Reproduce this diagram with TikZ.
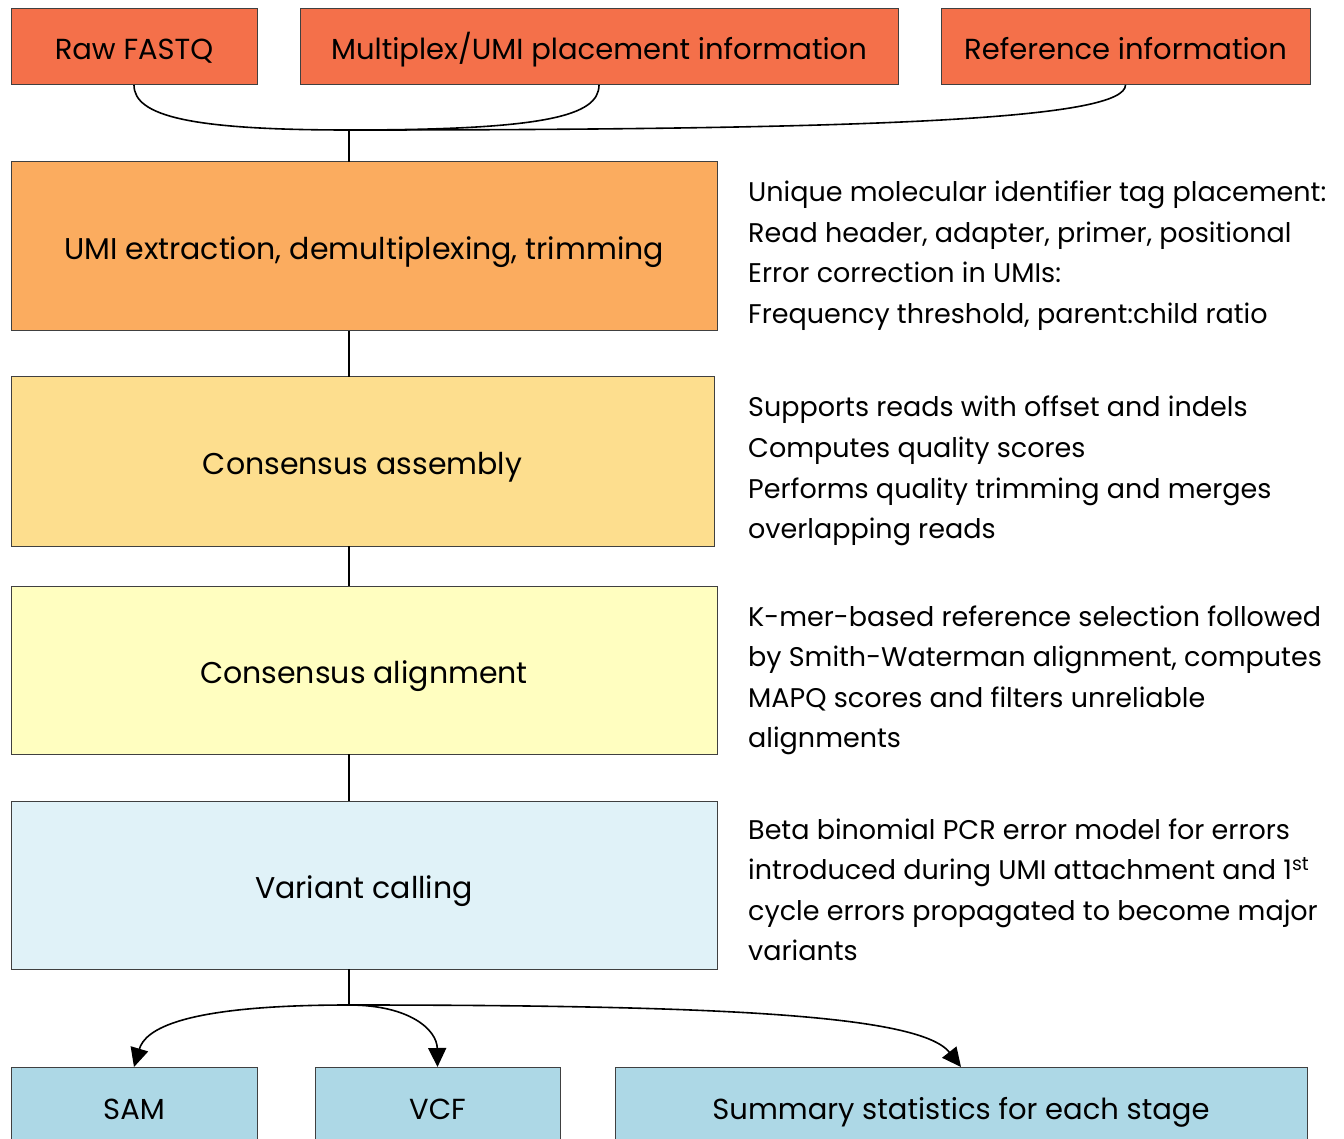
\documentclass[tikz,border=0pt]{standalone}
\usepackage{fontspec}
\setmainfont{Poppins}
\usetikzlibrary{arrows.meta}
\definecolor{topc}{HTML}{F4704A}
\definecolor{umic}{HTML}{FBAC5F}
\definecolor{asmc}{HTML}{FDDE8E}
\definecolor{alnc}{HTML}{FFFEC0}
\definecolor{varc}{HTML}{E0F2F8}
\definecolor{outc}{HTML}{ADD8E6}
\definecolor{edgec}{HTML}{404040}
\tikzset{
  box/.style={draw=edgec, line width=1pt, anchor=north west, inner sep=0pt, outer sep=0pt,
    font=\fontsize{29}{35}\selectfont, text height=26pt, text depth=0pt},
  stage/.style={box, font=\fontsize{30}{36}\selectfont},
  side/.style={anchor=base west, inner sep=0pt, font=\fontsize{27}{33}\selectfont},
  conn/.style={line width=1.6pt, draw=black},
  arr/.style={conn, -{Triangle[length=19pt,width=18pt]}}
}
\begin{document}
\begin{tikzpicture}[x=1pt,y=-1pt]
\clip (0,0) rectangle (1344,1139);
\fill[white] (0,0) rectangle (1344,1139);
% top inputs
\node[box, fill=topc, minimum width=246pt, minimum height=76pt] (raw) at (11,9) {Raw FASTQ};
\node[box, fill=topc, minimum width=598pt, minimum height=76pt] (mux) at (300,9) {Multiplex/UMI placement information};
\node[box, fill=topc, minimum width=369pt, minimum height=76pt] (ref) at (941,9) {Reference information};
% stages
\node[stage, fill=umic, minimum width=706pt, minimum height=169pt] (umi) at (11,162) {UMI extraction, demultiplexing, trimming};
\node[stage, fill=asmc, minimum width=703pt, minimum height=169pt] (asm) at (11,377) {Consensus assembly};
\node[stage, fill=alnc, minimum width=706pt, minimum height=168pt] (aln) at (11,586) {Consensus alignment};
\node[stage, fill=varc, minimum width=706pt, minimum height=168pt] (var) at (11,801) {Variant calling};
% outputs
\node[box, fill=outc, minimum width=246pt, minimum height=78pt] (sam) at (11,1067) {SAM};
\node[box, fill=outc, minimum width=245pt, minimum height=78pt] (vcf) at (315,1067) {VCF};
\node[box, fill=outc, minimum width=692pt, minimum height=78pt] (sum) at (615,1067) {Summary statistics for each stage};
% junctions
\coordinate (j1) at (349,130);
\coordinate (j2) at (349,1005);
% input connectors
\draw[conn] (raw.south) .. controls (134,116) and (190,130) .. (j1);
\draw[conn] (mux.south) .. controls (599,116) and (545,130) .. (j1);
\draw[conn] (ref.south) .. controls (1125,118) and (900,130) .. (j1);
\draw[line width=1.2pt] (j1) -- (j1 |- umi.north);
\draw[line width=1.2pt] (j1 |- umi.south) -- (j1 |- asm.north);
\draw[line width=1.2pt] (j1 |- asm.south) -- (j1 |- aln.north);
\draw[line width=1.2pt] (j1 |- aln.south) -- (j1 |- var.north);
\draw[line width=1.2pt] (j1 |- var.south) -- (j2);
% output connectors
\draw[arr] (j2) .. controls (180,1005) and (145,1030) .. (sam.north);
\draw[arr] (j2) .. controls (410,1005) and (437,1030) .. (vcf.north);
\draw[arr] (j2) .. controls (720,1005) and (920,1015) .. (sum.north);
% side notes
\node[side] (n1a) at (748,202) {Unique molecular identifier tag placement:};
\node[side] (n1b) at (748,242.5) {Read header, adapter, primer, positional};
\node[side] (n1c) at (748,283) {Error correction in UMIs:};
\node[side] (n1d) at (748,323.5) {Frequency threshold, parent:child ratio};
\node[side] (n2a) at (748,417) {Supports reads with offset and indels};
\node[side] (n2b) at (748,457.5) {Computes quality scores};
\node[side] (n2c) at (748,498) {Performs quality trimming and merges};
\node[side] (n2d) at (748,538.5) {overlapping reads};
\node[side] (n3a) at (748,626) {K-mer-based reference selection followed};
\node[side] (n3b) at (748,666.5) {by Smith-Waterman alignment, computes};
\node[side] (n3c) at (748,707) {MAPQ scores and filters unreliable};
\node[side] (n3d) at (748,747.5) {alignments};
\node[side] (n4a) at (748,839) {Beta binomial PCR error model for errors};
\node[side] (n4b) at (748,879.5) {introduced during UMI attachment and 1\textsuperscript{st}};
\node[side] (n4c) at (748,920) {cycle errors propagated to become major};
\node[side] (n4d) at (748,960.5) {variants};
\end{tikzpicture}
\end{document}
